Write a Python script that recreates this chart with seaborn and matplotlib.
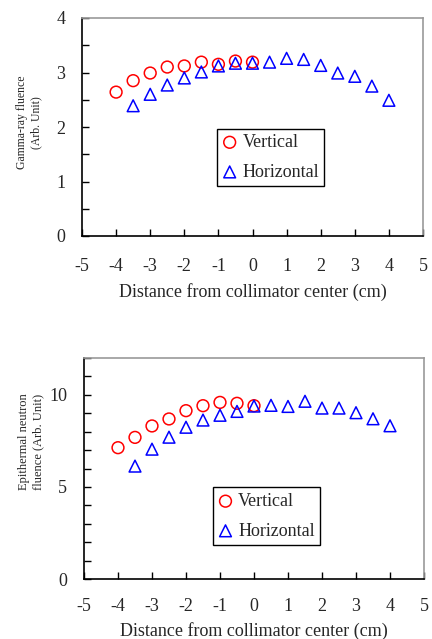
import matplotlib
matplotlib.use("Agg")
import matplotlib.pyplot as plt
import seaborn as sns
import pandas as pd
from matplotlib.ticker import MultipleLocator

sns.set_style("ticks")
plt.rcParams['font.family'] = ['Liberation Serif', 'DejaVu Serif']

# ---- data ----
gamma_vert_x = [-4, -3.5, -3, -2.5, -2, -1.5, -1, -0.5, 0]
gamma_vert_y = [2.64, 2.85, 2.99, 3.10, 3.12, 3.19, 3.15, 3.21, 3.19]
gamma_horiz_x = [-3.5, -3, -2.5, -2, -1.5, -1, -0.5, 0, 0.5, 1, 1.5, 2, 2.5, 3, 3.5, 4]
gamma_horiz_y = [2.39, 2.60, 2.77, 2.90, 3.01, 3.12, 3.17, 3.17, 3.19, 3.26, 3.24, 3.13, 2.99, 2.93, 2.75, 2.49]

neut_vert_x = [-4, -3.5, -3, -2.5, -2, -1.5, -1, -0.5, 0]
neut_vert_y = [7.13, 7.69, 8.31, 8.69, 9.14, 9.41, 9.59, 9.54, 9.41]
neut_horiz_x = [-3.5, -3, -2.5, -2, -1.5, -1, -0.5, 0, 0.5, 1, 1.5, 2, 2.5, 3, 3.5, 4]
neut_horiz_y = [6.13, 7.05, 7.70, 8.24, 8.63, 8.89, 9.10, 9.39, 9.43, 9.37, 9.65, 9.28, 9.28, 9.03, 8.70, 8.32]

series_labels = ["Vertical", "Horizontal"]
xlabel = "Distance from collimator center (cm)"
ylabel_top = "Gamma-ray fluence\n(Arb. Unit)"
ylabel_bot = "Epithermal neutron\nfluence (Arb. Unit)"
xticks = [-5, -4, -3, -2, -1, 0, 1, 2, 3, 4, 5]

fig = plt.figure(figsize=(4.32, 6.39), dpi=100)
ax1 = fig.add_axes([82/432, 1-236/639, 341/432, 218/639])
ax2 = fig.add_axes([84/432, 1-579/639, 340/432, 221/639])

MS = 72
TICKFS = 13


def draw(ax, vx, vy, hx, hy, ylim, major, minor, ylabel, ylab_fs, ylab_pos,
         leg_pos, xpad, xlabpad):
    dv = pd.DataFrame({"x": vx, "y": vy})
    dh = pd.DataFrame({"x": hx, "y": hy})
    sns.scatterplot(data=dv, x="x", y="y", ax=ax, marker="o", s=MS,
                    facecolors="none", edgecolors="#ff0000", linewidths=1.1,
                    label=series_labels[0], zorder=3)
    sns.scatterplot(data=dh, x="x", y="y", ax=ax, marker="^", s=MS,
                    facecolors="none", edgecolors="#0000ff", linewidths=1.1,
                    label=series_labels[1], zorder=3)
    ax.set_xlim(-5, 5)
    ax.set_ylim(*ylim)
    ax.set_xticks(xticks)
    ax.set_xticklabels([str(t) for t in xticks])
    ax.yaxis.set_major_locator(MultipleLocator(major))
    ax.yaxis.set_minor_locator(MultipleLocator(minor))
    ax.tick_params(axis="both", which="both", direction="in", length=5,
                   width=1, color="black", labelsize=TICKFS)
    ax.tick_params(axis="x", pad=xpad)
    ax.tick_params(axis="y", pad=12)
    ax.set_xlabel(xlabel, fontsize=TICKFS, labelpad=xlabpad)
    ax.set_ylabel(ylabel, fontsize=ylab_fs, linespacing=1.2)
    ax.yaxis.set_label_coords(*ylab_pos)
    for s in ("left", "bottom"):
        ax.spines[s].set_color("black")
        ax.spines[s].set_linewidth(1.2)
    for s in ("top", "right"):
        ax.spines[s].set_color("#999999")
        ax.spines[s].set_linewidth(1.2)
    leg = ax.legend(loc="lower left", bbox_to_anchor=leg_pos, borderaxespad=0,
                    fontsize=TICKFS, frameon=True, fancybox=False,
                    handletextpad=0.3, labelspacing=0.7, borderpad=0.3,
                    handlelength=0.8)
    leg.get_frame().set_edgecolor("black")
    leg.get_frame().set_linewidth(1.0)
    leg.get_frame().set_alpha(1)


draw(ax1, gamma_vert_x, gamma_vert_y, gamma_horiz_x, gamma_horiz_y,
     (0, 4), 1, 0.5, ylabel_top, 8.5, (-0.117, 0.52), (0.396, 0.229), 15.5, 6)
draw(ax2, neut_vert_x, neut_vert_y, neut_horiz_x, neut_horiz_y,
     (0, 12), 5, 1, ylabel_bot, 9, (-0.118, 0.62), (0.379, 0.154), 14, 5)

fig.savefig("out.png", dpi=100)
